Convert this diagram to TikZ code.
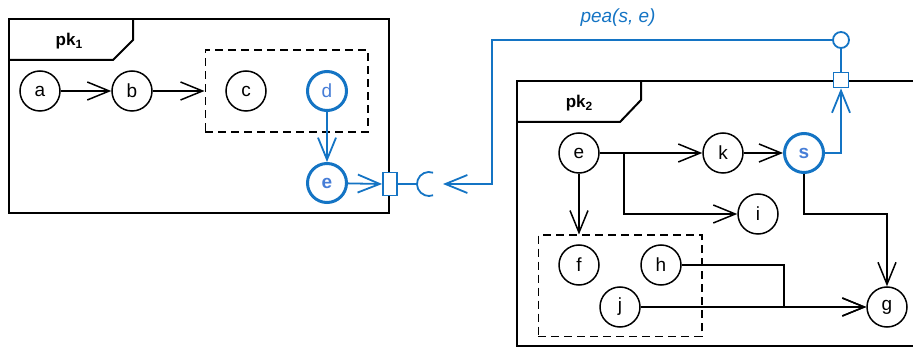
\documentclass[tikz,border=0pt]{standalone}
\usepackage{fontspec}
\setmainfont{Liberation Sans}
\usetikzlibrary{arrows.meta, positioning, fit}
\definecolor{umlblue}{RGB}{20,116,196}
\definecolor{txtblue}{RGB}{70,125,215}
\newcommand{\nodefont}{\fontsize{19}{21}\selectfont}
\newcommand{\pksub}[1]{\raisebox{-0.35ex}{\fontsize{12}{12}\selectfont #1}}
\tikzset{
  state/.style={circle, draw=black, fill=white, line width=1.5pt,
                minimum size=40pt, inner sep=0pt, font=\nodefont},
  hot/.style={state, draw=umlblue, line width=3pt, minimum size=39pt, text=txtblue},
  group/.style={draw=black, dashed, dash pattern=on 8pt off 5pt, line width=1.5pt},
  frame/.style={draw=black, line width=2pt},
  tablabel/.style={font=\fontsize{17}{20}\selectfont\bfseries},
  port/.style={rectangle, draw=umlblue, fill=white, line width=1.8pt, inner sep=0pt},
  arrow/.style={-{Straight Barb[length=22pt, width=18pt]}, line width=1.5pt},
  barrow/.style={arrow, draw=umlblue, line width=1.8pt},
  bline/.style={draw=umlblue, line width=1.8pt},
}
\begin{document}
\begin{tikzpicture}[x=1pt, y=-1pt]
  \useasboundingbox (0,0) rectangle (913,347);

  % Package pk1
  \draw[frame] (9,19) rectangle (389,213);
  \draw[frame] (9,60) -- (113,60) -- (133,40) -- (133,19);
  \node[tablabel] at (69,41) {pk\pksub{1}};

  \node[state] (a) at (40,91) {a};
  \node[state] (b) at (132,91) {b};
  \node[state] (c) at (246,91) {c};
  \node[hot] (d) at (327,91) {d};
  \node[hot] (eone) at (327,183) {\textbf{e}};
  \node[group, fit=(c)(d), inner xsep=20pt, inner ysep=20pt] (grpone) {};

  \draw[arrow] (a) -- (b);
  \draw[arrow] (b) -- (grpone.west);
  \draw[barrow] (d) -- (eone);

  % Package pk2
  \draw[frame] (914,81) -- (517,81) -- (517,346) -- (914,346);
  \draw[frame] (517,122) -- (620,122) -- (641,100) -- (641,81);
  \node[tablabel] at (579,103) {pk\pksub{2}};

  \node[state] (etwo) at (579,153) {e};
  \node[state] (k) at (723,153) {k};
  \node[hot] (s) at (804,153) {\textbf{s}};
  \node[state] (i) at (758,214) {i};
  \node[state] (f) at (579,265) {f};
  \node[state] (h) at (661,265) {h};
  \node[state] (j) at (620,307) {j};
  \node[state] (g) at (887,307) {g};
  \node[group, fit=(f)(h)(j), inner xsep=20pt, inner ysep=9pt] (grptwo) {};

  \draw[arrow] (etwo) -- (k);
  \draw[arrow] (k) -- (s);
  \draw[arrow] (etwo.east) -- ++(24,0) |- (i);
  \draw[arrow] (etwo) -- (etwo |- grptwo.north);
  \draw[arrow] (s.south) -- (s |- i) -| (g.north);
  \draw[arrow] (h.east) -- ++(102,0) |- (g.west);
  \draw[arrow] (j) -- (g);

  % Ports and the pea(s, e) link
  \node[port, minimum width=14pt, minimum height=23pt] (pone) at (390,184) {};
  \node[port, minimum size=15pt] (ptwo) at (841,80) {};
  \node[circle, bline, fill=white, minimum size=16pt, inner sep=0pt] (lolli) at (841,40) {};
  \coordinate (sock) at (417,184);
  \coordinate (sockin) at (443,184);
  \coordinate (turn) at (492,40);

  \draw[barrow] (eone) -- (pone.west);
  \draw[bline] (pone.east) -- (sock);
  \draw[bline] (433.1,172.7) arc[start angle=70, end angle=290, radius=12pt];
  \draw[barrow] (lolli.west) -- (turn) |- (sockin);
  \draw[bline] (lolli) -- (ptwo);
  \draw[barrow] (s.east) -| (ptwo.south);
  \node[font=\fontsize{19}{22}\selectfont\itshape, text=umlblue] (pea) at (618,18) {pea(s, e)};
\end{tikzpicture}
\end{document}
